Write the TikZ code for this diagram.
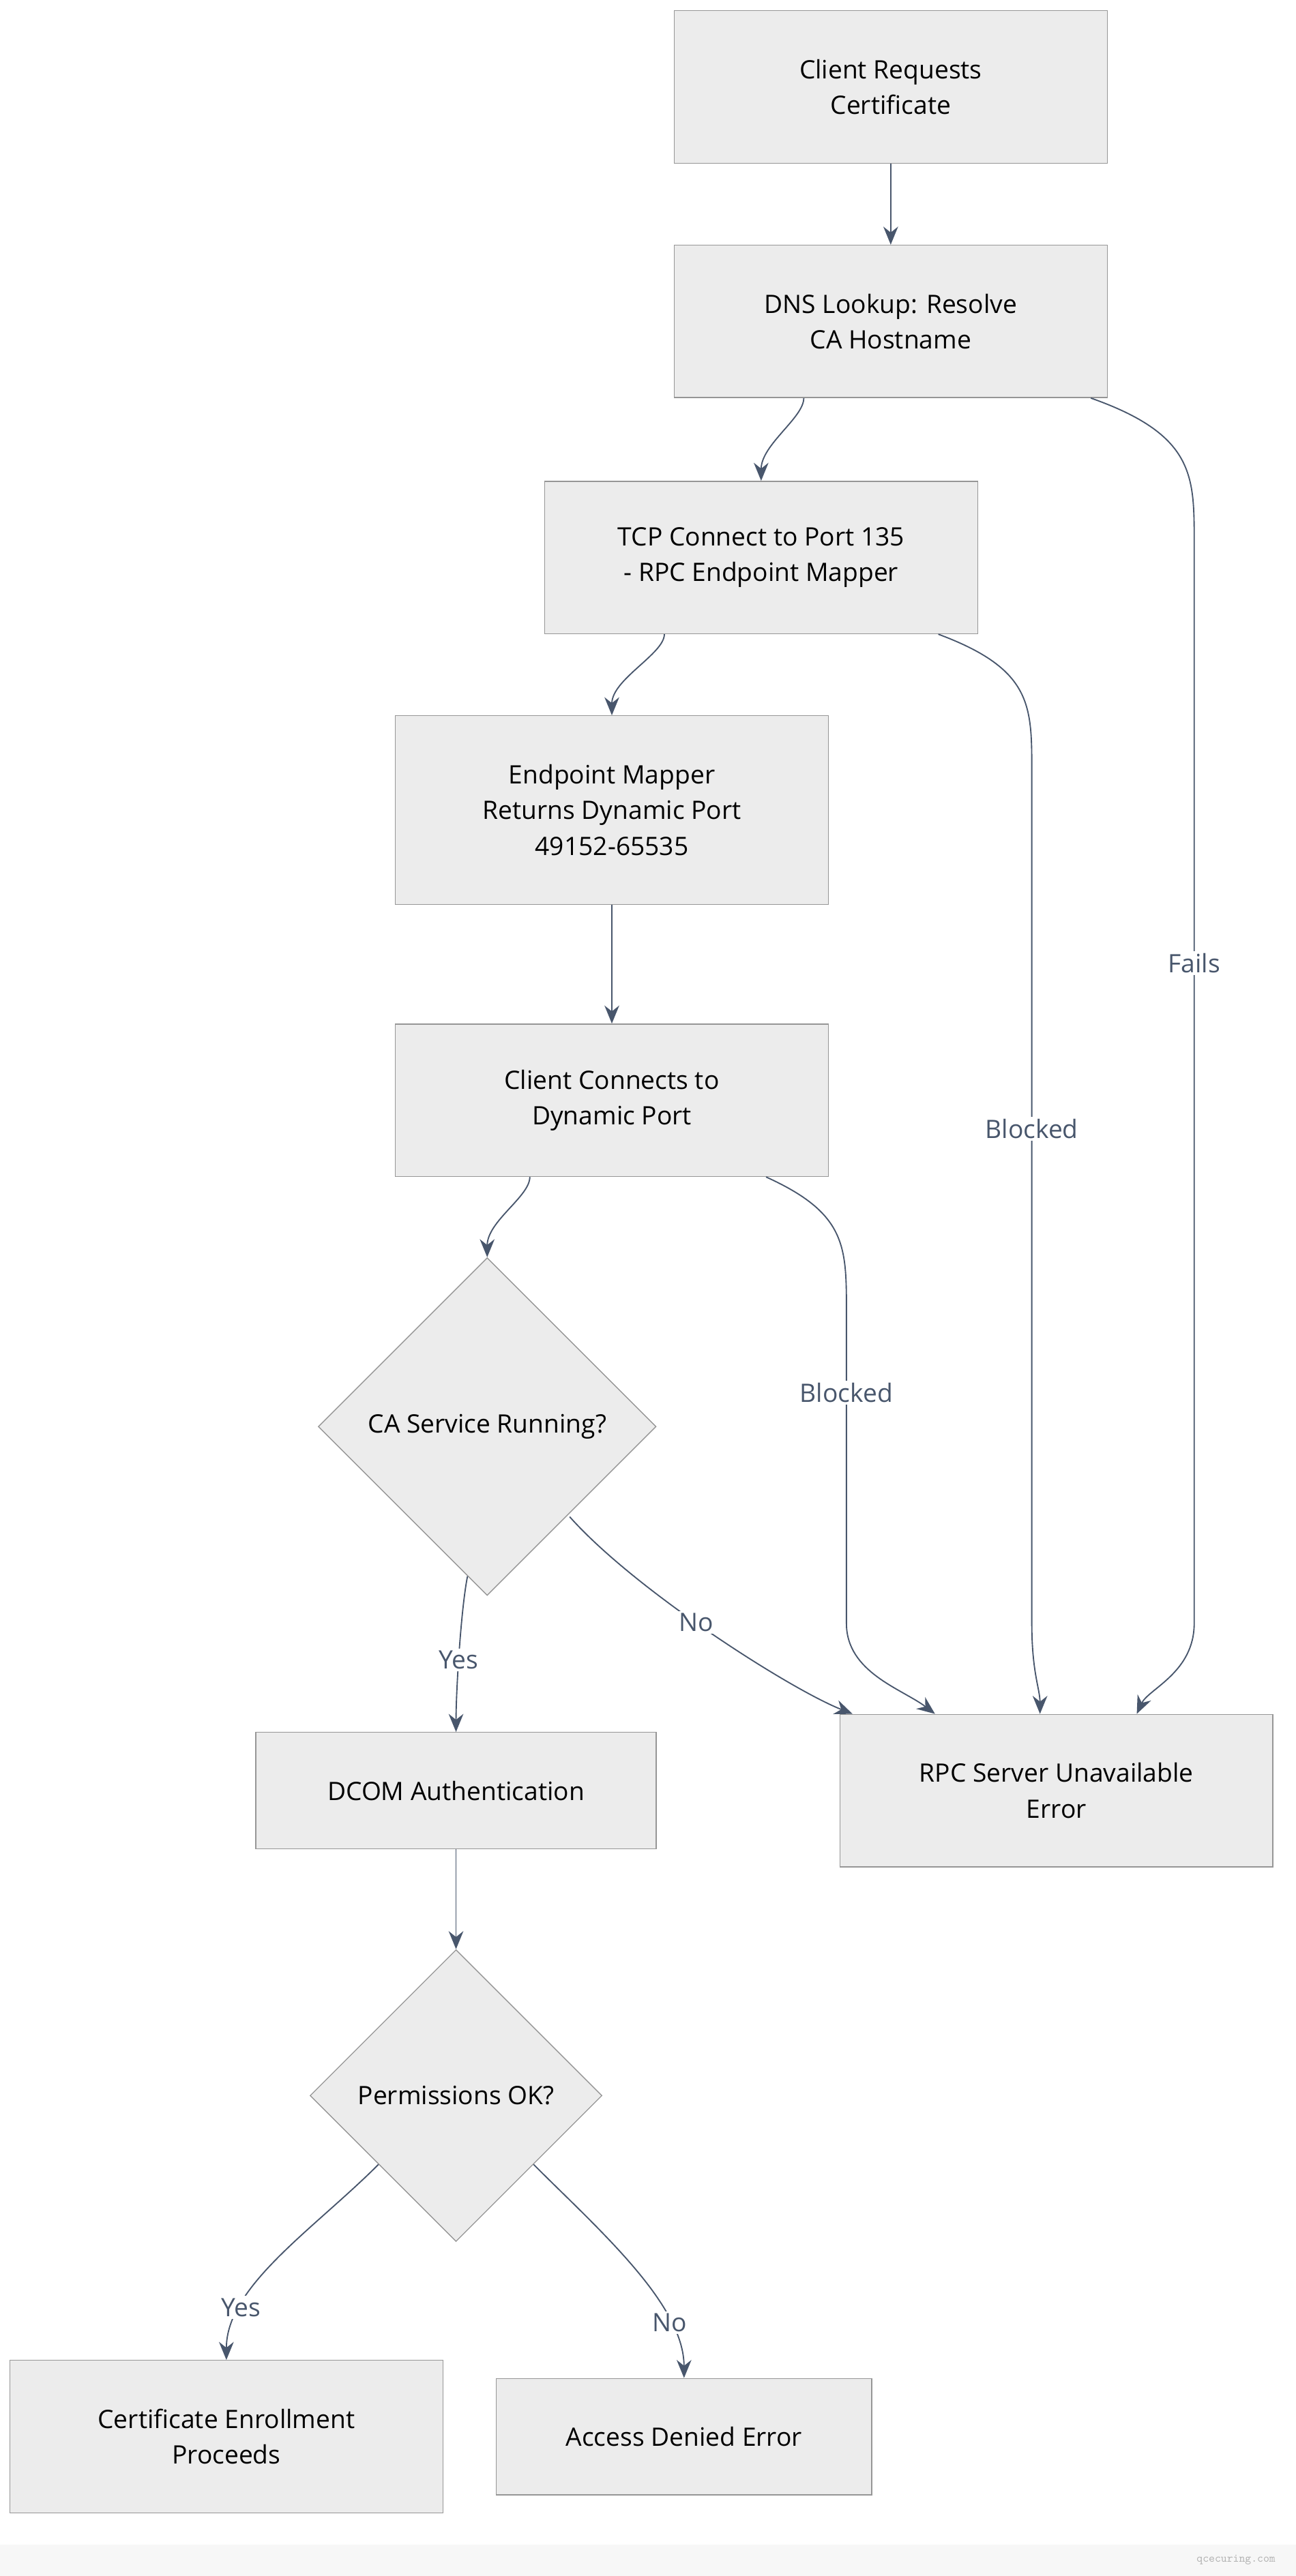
\documentclass[tikz,border=0pt]{standalone}
\usepackage{fontspec}
\setmainfont{Open Sans}
\usetikzlibrary{arrows.meta,positioning,shapes.geometric,calc}
\definecolor{boxfill}{RGB}{236,236,236}
\definecolor{boxline}{RGB}{150,150,150}
\definecolor{edgecol}{RGB}{72,86,108}

\tikzset{
  stepbox/.style={rectangle, draw=boxline, fill=boxfill, line width=0.8pt, minimum width=13.2cm, minimum height=4.65cm, align=center, font=\fontsize{22}{31}\selectfont},
  check/.style={diamond, draw=boxline, fill=boxfill, line width=0.8pt, aspect=1, inner sep=0pt, align=center, font=\fontsize{22}{31}\selectfont},
  arr/.style={-{Stealth[length=0.55cm,width=0.45cm]}, edgecol, line width=1.1pt},
  lbl/.style={fill=white, inner sep=2pt, font=\fontsize{22}{31}\selectfont},
}

\begin{document}
\begin{tikzpicture}[x=0.05cm, y=-0.05cm]
\useasboundingbox (0,0) rectangle (790,1571);
% footer strip
\fill[gray!6] (0,1552) rectangle (790,1571);
\node[font=\ttfamily\fontsize{10}{12}\selectfont, text=gray!60, anchor=east] (mark) at (780,1561) {qcecuring.com};

% steps
\node[stepbox] (req) at (543,53) {Client Requests\\ Certificate};
\node[stepbox] (dns) at (543,196) {DNS Lookup: Resolve\\ CA Hostname};
\node[stepbox] (tcp) at (464,340) {TCP Connect to Port 135\\ - RPC Endpoint Mapper};
\node[stepbox, minimum height=5.75cm] (epm) at (373,494) {Endpoint Mapper\\ Returns Dynamic Port\\ 49152-65535};
\node[stepbox] (dyn) at (373,671) {Client Connects to\\ Dynamic Port};
\node[check, minimum size=10.3cm] (svc) at (297,870) {CA Service Running?};
\node[stepbox] (rpcerr) at (644,1092) {RPC Server Unavailable\\ Error};
\node[stepbox, minimum width=12.2cm, minimum height=3.55cm] (dcom) at (278,1092) {DCOM Authentication};
\node[check, minimum size=8.9cm] (perm) at (278,1278) {Permissions OK?};
\node[stepbox] (enroll) at (138,1486) {Certificate Enrollment\\ Proceeds};
\node[stepbox, minimum width=11.45cm, minimum height=3.55cm] (deny) at (417,1486) {Access Denied Error};

% main flow
\draw[arr] (req) -- (dns);
\draw[arr] ($(dns.south)+(-53,0)$) .. controls ++(0,12) and ($(tcp.north)+(0,-22)$) .. (tcp.north);
\draw[arr] ($(tcp.south)+(-59,0)$) .. controls ++(0,12) and ($(epm.north)+(0,-22)$) .. (epm.north);
\draw[arr] (epm) -- (dyn);
\draw[arr] ($(dyn.south)+(-50,0)$) .. controls ++(0,12) and ($(svc.north)+(0,-22)$) .. (svc.north);
\draw[arr] ($(svc.south)+(-12,-12)$) .. controls ++(-4,20) and ($(dcom.north)+(0,-25)$) .. node[lbl, pos=0.55] {Yes} (dcom.north);
\draw[arr] ($(svc.east)+(-53,55)$) .. controls ++(40,45) and ($(rpcerr.north west)+(-30,-15)$) .. node[lbl, pos=0.45] {No} ($(rpcerr.north west)+(8,0)$);
\draw[arr] (dcom) -- (perm);
\draw[arr] ($(perm.west)+(42,42)$) .. controls ++(-40,40) and ($(enroll.north)+(0,-45)$) .. node[lbl, pos=0.75] {Yes} (enroll.north);
\draw[arr] ($(perm.east)+(-42,42)$) .. controls ++(40,40) and ($(deny.north)+(0,-45)$) .. node[lbl, pos=0.75] {No} (deny.north);

% failure paths
\draw[arr] ($(dns.south)+(122,0)$) .. controls (728,265) and (728,290) .. (728,330) -- node[lbl, pos=0.39] {Fails} (728,990) .. controls (728,1020) and (700,1030) .. ($(rpcerr.north)+(49,0)$);
\draw[arr] ($(tcp.south)+(108,0)$) .. controls (629,408) and (629,430) .. (629,470) -- node[lbl, pos=0.42] {Blocked} (629,990) .. controls (629,1020) and (634,1030) .. ($(rpcerr.north)+(-10,0)$);
\draw[arr] ($(dyn.south)+(94,0)$) .. controls (516,740) and (516,760) .. (516,800) -- node[lbl, pos=0.26] {Blocked} (516,990) .. controls (516,1020) and (550,1030) .. ($(rpcerr.north)+(-74,0)$);
\end{tikzpicture}
\end{document}
